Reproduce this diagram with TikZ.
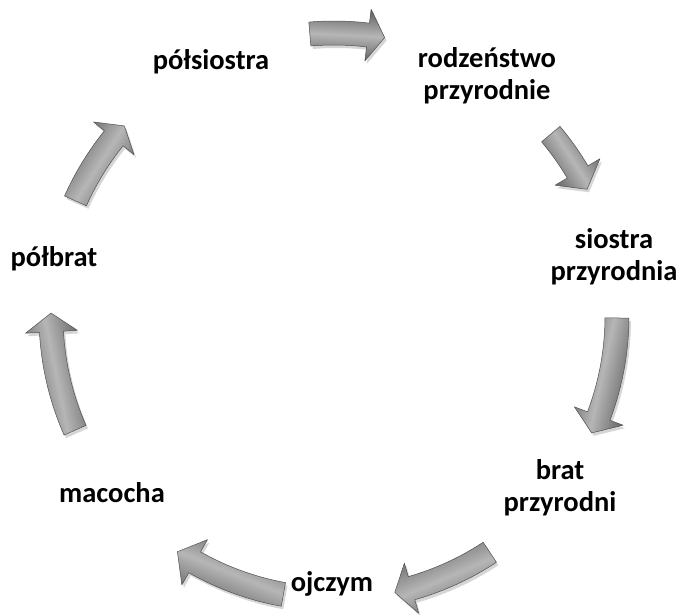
\documentclass[tikz,border=0pt]{standalone}
\usepackage{fontspec}
\setmainfont{Carlito}
\definecolor{arrdark}{RGB}{96,96,96}
\definecolor{arrlight}{RGB}{182,182,182}
\definecolor{arredge}{RGB}{80,80,80}
\tikzset{
  lbl/.style={font=\fontsize{28.5}{32}\selectfont\bfseries, align=center, text=black, inner sep=0pt},
  arrbody/.style={draw=arredge, line width=0.5pt, line join=round, top color=arrdark, bottom color=arrdark, middle color=arrlight},
  arrshadow/.style={fill=black, opacity=0.16},
}
% #1 tail angle, #2 head-base angle, #3 tip angle, #4 shading angle
\newcommand\cycarrow[4]{%
  \fill[arrshadow] plot[domain=#1:#2,samples=30] ({336+295*sin(\x)},{319-295*cos(\x)})
    -- ({336+309*sin(#2)},{319-309*cos(#2)}) -- ({336+283*sin(#3)},{319-283*cos(#3)})
    -- ({336+257*sin(#2)},{319-257*cos(#2)})
    -- plot[domain=#2:#1,samples=30] ({336+271*sin(\x)},{319-271*cos(\x)}) -- cycle;
  \path[arrbody, shading angle=#4] plot[domain=#1:#2,samples=30] ({334+295*sin(\x)},{316-295*cos(\x)})
    -- ({334+309*sin(#2)},{316-309*cos(#2)}) -- ({334+283*sin(#3)},{316-283*cos(#3)})
    -- ({334+257*sin(#2)},{316-257*cos(#2)})
    -- plot[domain=#2:#1,samples=30] ({334+271*sin(\x)},{316-271*cos(\x)}) -- cycle;
}
\begin{document}
\begin{tikzpicture}[x=1pt,y=-1pt]
\useasboundingbox (0,0) rectangle (679,614);
\fill[white] (0,0) rectangle (679,614);

\cycarrow{-4.9}{6.9}{10.3}{-2.7}
\cycarrow{50}{59.4}{63.4}{-56.7}
\cycarrow{90.4}{110.7}{114.4}{-102.4}
\cycarrow{146.6}{164.1}{167.6}{-157}
\cycarrow{190.3}{209.5}{213.6}{-202}
\cycarrow{246.2}{266.8}{270.6}{-258.4}
\cycarrow{294}{308.9}{312.2}{-303}

\node[lbl] (n1) at (211,62) {półsiostra};
\node[lbl] (n2) at (487,76) {rodzeństwo\\przyrodnie};
\node[lbl] (n3) at (614,257) {siostra\\przyrodnia};
\node[lbl] (n4) at (560,488) {brat\\przyrodni};
\node[lbl] (n5) at (332,584) {ojczym};
\node[lbl] (n6) at (112,493) {macocha};
\node[lbl] (n7) at (54,259) {półbrat};
\end{tikzpicture}
\end{document}
